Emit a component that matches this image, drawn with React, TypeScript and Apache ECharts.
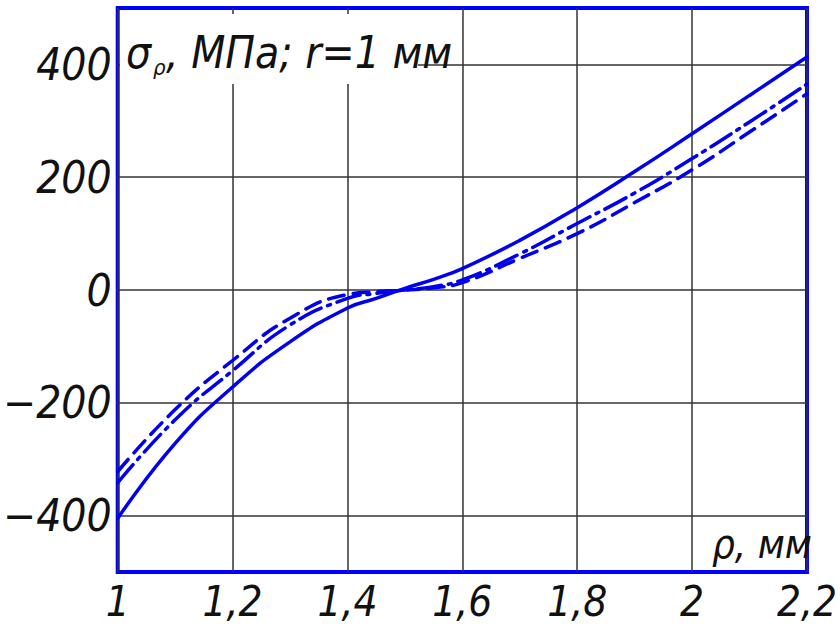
import React, { useEffect, useRef } from "react";
import * as echarts from "echarts";

const rho = [1.0, 1.1, 1.2, 1.3, 1.4, 1.45, 1.5, 1.55, 1.6, 1.7, 1.8, 1.9, 2.0, 2.1, 2.2];
const solidVals = [-405, -272, -172, -92, -32, -15, 3, 19, 38, 88, 146, 210, 277, 345, 413];
const dashedVals = [-322, -212, -125, -50, -8, -3, 0, 4, 13, 56, 100, 155, 213, 280, 348];
const dashDotVals = [-342, -230, -143, -62, -15, -6, 0, 6, 18, 64, 118, 172, 233, 298, 365];
const yGridValues = [-400, -200, 0, 200, 400];
const yTickLabels = ["−400", "−200", "0", "200", "400"];

const FONT = "'Liberation Sans Narrow', 'DejaVu Sans Condensed', 'Noto Sans', sans-serif";
const BLUE = "#0000ee";

export default function App() {
  const ref = useRef<HTMLDivElement>(null);
  useEffect(() => {
    if (!ref.current) return;
    document.body.style.margin = "0";
    const chart = echarts.init(ref.current, null, { renderer: "svg" });
    const pair = (vals: number[]) => rho.map((r, i) => [r, vals[i]]);
    const lineSeries = (name: string, vals: number[], type: any) => ({
      name,
      type: "line",
      data: pair(vals),
      showSymbol: false,
      smooth: 0.5,
      lineStyle: { color: BLUE, width: 3.5, type, cap: "round" },
      z: 5,
    });
    chart.setOption({
      animation: false,
      grid: {
        left: 116,
        right: 28,
        top: 8,
        bottom: 54,
        show: true,
        borderColor: "#0000ff",
        borderWidth: 4,
        backgroundColor: "#fff",
      },
      xAxis: {
        type: "value",
        min: 1,
        max: 2.2,
        interval: 0.2,
        axisLine: { show: false },
        axisTick: { show: false },
        splitLine: { show: true, lineStyle: { color: "#333", width: 1.5 } },
        axisLabel: {
          showMinLabel: true,
          showMaxLabel: true,
          margin: 8,
          fontFamily: FONT,
          fontStyle: "italic",
          fontSize: 42,
          lineHeight: 42,
          color: "#111",
          formatter: (v: number) => String(Math.round(v * 10) / 10).replace(".", ","),
        },
      },
      yAxis: {
        type: "value",
        min: -500,
        max: 500,
        interval: 100,
        axisLine: { show: false },
        axisTick: { show: false },
        splitLine: { show: false },
        axisLabel: {
          margin: 6,
          fontFamily: FONT,
          fontStyle: "italic",
          fontSize: 44,
          color: "#111",
          formatter: (v: number) => {
            const idx = yGridValues.indexOf(Math.round(v));
            return idx >= 0 ? yTickLabels[idx] : "";
          },
        },
      },
      series: [
        {
          type: "line",
          data: [],
          silent: true,
          markLine: {
            silent: true,
            symbol: "none",
            label: { show: false },
            lineStyle: { color: "#333", width: 1.5, type: "solid" },
            data: yGridValues.map((v) => ({ yAxis: v })),
          },
          z: 1,
        },
        lineSeries("solid", solidVals, "solid"),
        lineSeries("dashed", dashedVals, [16, 9]),
        lineSeries("dashdot", dashDotVals, [24, 7, 3, 7]),
      ],
      graphic: [
        {
          type: "rect",
          shape: { x: 120, y: 14, width: 298, height: 70 },
          style: { fill: "#fff" },
          z: 20,
        },
        {
          type: "text",
          x: 126,
          y: 30,
          style: { text: "σ", font: `italic 44px ${FONT}`, fill: "#111" },
          z: 21,
        },
        {
          type: "text",
          x: 153,
          y: 56,
          style: { text: "ρ", font: `italic 22px ${FONT}`, fill: "#111" },
          z: 21,
        },
        {
          type: "text",
          x: 166,
          y: 30,
          style: { text: ", МПа; r=1 мм", font: `italic 44px ${FONT}`, fill: "#111" },
          z: 21,
        },
        {
          type: "text",
          x: 712,
          y: 524,
          style: { text: "ρ, мм", font: `italic 40px ${FONT}`, fill: "#111" },
          z: 21,
        },
      ],
    });
    return () => chart.dispose();
  }, []);
  return <div ref={ref} style={{ width: 840, height: 626 }} />;
}
